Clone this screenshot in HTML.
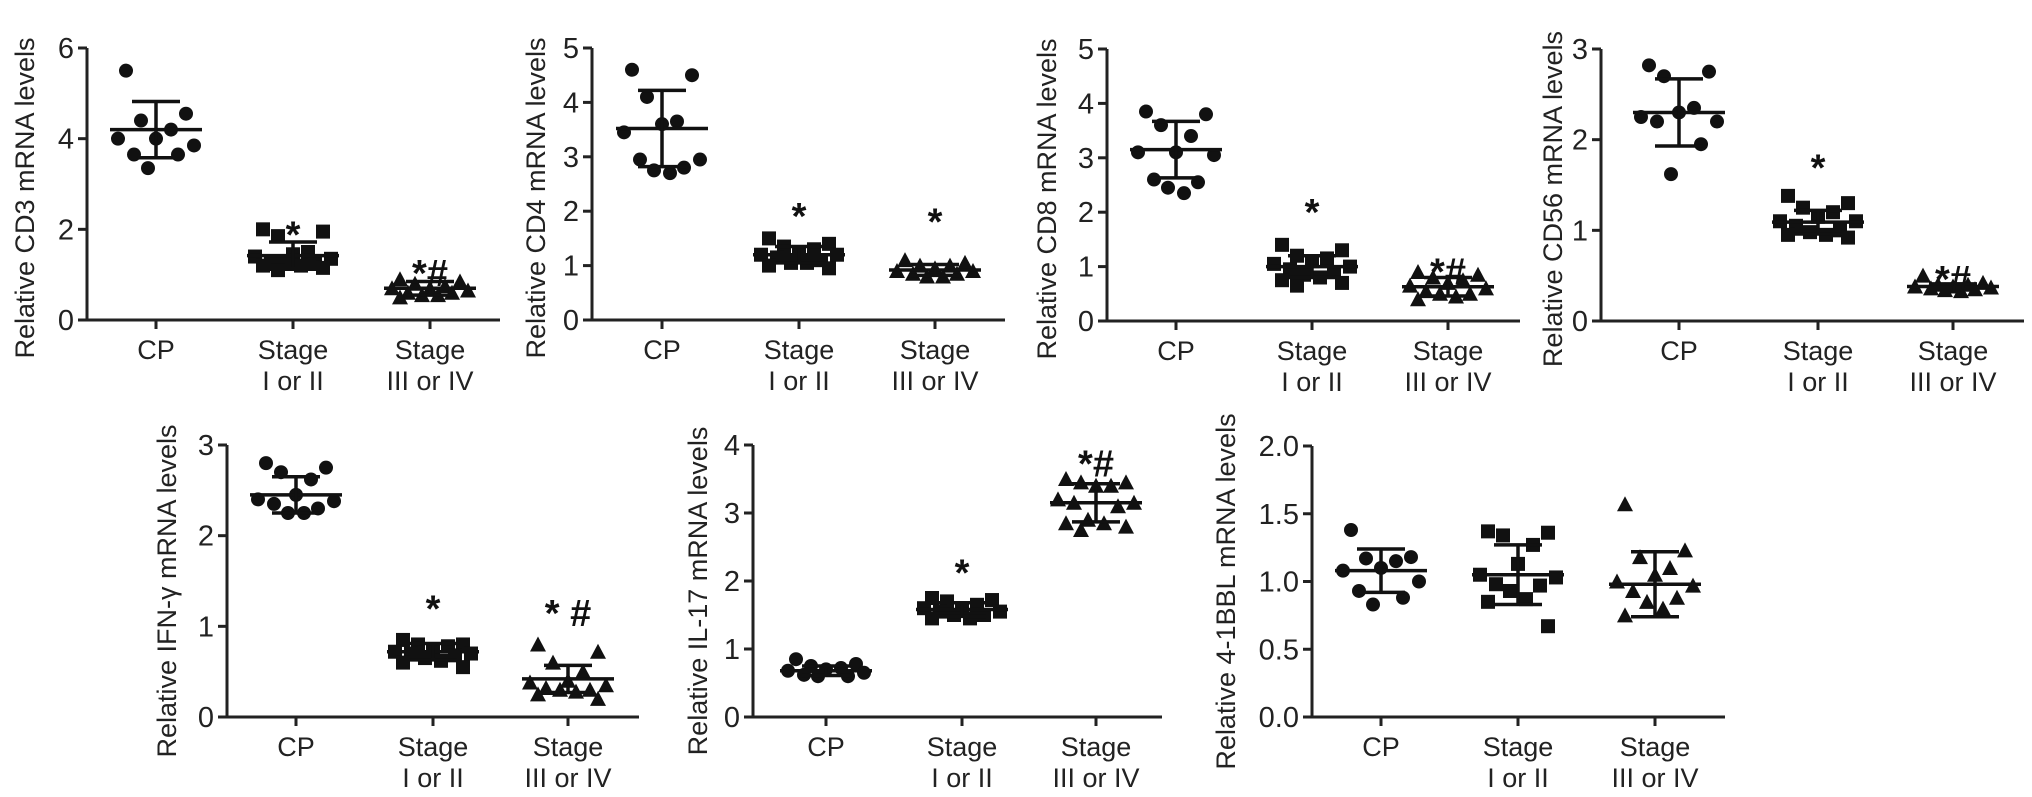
<!DOCTYPE html>
<html><head><meta charset="utf-8"><style>
html,body{margin:0;padding:0;background:#fff;}
svg{display:block;font-family:"Liberation Sans",Arial,sans-serif;}
</style></head><body>
<svg id="fig" width="2032" height="797" viewBox="0 0 2032 797" xmlns="http://www.w3.org/2000/svg"></svg>
<script>
const categories = ["CP", "Stage|I or II", "Stage|III or IV"];
// CD3
const cd3CP = [5.5,4.55,4.4,4.2,4.0,4.0,3.85,3.65,3.65,3.35];
const cd3S12 = [2.0,1.95,1.85,1.5,1.45,1.4,1.35,1.3,1.3,1.25,1.2,1.2,1.15,1.1];
const cd3S34 = [0.9,0.85,0.8,0.75,0.7,0.7,0.65,0.6,0.6,0.55,0.55,0.5];
const cd3Mean = [4.2,1.42,0.7];
const cd3SD = [0.62,0.3,0.15];
// CD4
const cd4CP = [4.6,4.5,4.1,3.65,3.6,3.45,2.95,2.95,2.8,2.75,2.7];
const cd4S12 = [1.5,1.4,1.35,1.3,1.25,1.2,1.2,1.15,1.1,1.05,1.05,1.0,0.95];
const cd4S34 = [1.1,1.05,1.0,1.0,0.95,0.9,0.9,0.85,0.85,0.8,0.8];
const cd4Mean = [3.52,1.2,0.92];
const cd4SD = [0.7,0.15,0.1];
// CD8
const cd8CP = [3.85,3.8,3.6,3.4,3.1,3.1,3.05,2.6,2.55,2.45,2.35];
const cd8S12 = [1.4,1.3,1.2,1.15,1.1,1.05,1.0,0.95,0.9,0.85,0.8,0.75,0.7,0.65];
const cd8S34 = [0.9,0.85,0.8,0.75,0.7,0.65,0.6,0.55,0.5,0.5,0.45,0.4];
const cd8Mean = [3.15,1.0,0.63];
const cd8SD = [0.52,0.2,0.17];
// CD56
const cd56CP = [2.82,2.75,2.7,2.35,2.3,2.25,2.2,2.2,1.95,1.62];
const cd56S12 = [1.38,1.3,1.25,1.2,1.15,1.1,1.1,1.05,1.0,0.98,0.95,0.95,0.92];
const cd56S34 = [0.5,0.42,0.4,0.4,0.38,0.38,0.37,0.36,0.35,0.34,0.33];
const cd56Mean = [2.3,1.09,0.38];
const cd56SD = [0.37,0.13,0.03];
// IFN-gamma
const ifnCP = [2.8,2.75,2.7,2.62,2.45,2.4,2.38,2.35,2.3,2.25,2.25];
const ifnS12 = [0.85,0.8,0.8,0.78,0.75,0.72,0.7,0.7,0.68,0.65,0.62,0.6,0.55];
const ifnS34 = [0.8,0.72,0.6,0.5,0.4,0.38,0.35,0.32,0.3,0.3,0.28,0.25,0.2];
const ifnMean = [2.45,0.72,0.42];
const ifnSD = [0.2,0.09,0.15];
// IL-17
const il17CP = [0.85,0.78,0.75,0.72,0.7,0.68,0.65,0.62,0.6,0.6];
const il17S12 = [1.75,1.72,1.7,1.65,1.6,1.6,1.55,1.55,1.5,1.5,1.45,1.45];
const il17S34 = [3.5,3.45,3.45,3.4,3.4,3.2,3.15,3.15,3.1,2.9,2.85,2.85,2.8,2.75];
const il17Mean = [0.68,1.58,3.15];
const il17SD = [0.07,0.1,0.28];
// 4-1BBL
const bblCP = [1.38,1.18,1.17,1.15,1.1,1.08,1.0,0.93,0.88,0.83];
const bblS12 = [1.37,1.36,1.34,1.27,1.13,1.05,1.03,0.98,0.97,0.93,0.87,0.85,0.67];
const bblS34 = [1.57,1.23,1.18,1.1,1.05,1.0,0.97,0.93,0.88,0.85,0.8,0.75];
const bblMean = [1.08,1.05,0.98];
const bblSD = [0.16,0.22,0.24];
// tick labels
const ticksCD3 = [0,2,4,6];
const ticksCD4 = [0,1,2,3,4,5];
const ticksCD56 = [0,1,2,3];
const ticksIL17 = [0,1,2,3,4];
const ticksBBL = ["0.0","0.5","1.0","1.5","2.0"];
// significance marks: [label, value]
const sigCD3 = [null,["*",2.0],["*#",1.15]];
const sigCD4 = [null,["*",2.0],["*",1.9]];
const sigCD8 = [null,["*",2.1],["*#",1.0]];
const sigCD56 = [null,["*",1.75],["*#",0.52]];
const sigIFN = [null,["*",1.25],["* #",1.2]];
const sigIL17 = [null,["*",2.2],["*#",3.8]];

const NS="http://www.w3.org/2000/svg";
const svg=document.getElementById('fig');
function mk(tag,attrs,parent){const e=document.createElementNS(NS,tag);for(const k in attrs)e.setAttribute(k,attrs[k]);(parent||svg).appendChild(e);return e;}

const panels=[
 {id:'cd3',title:'Relative CD3 mRNA levels',ax:87,ytop:48,y0:320,xend:500,gx:[156,293,430],max:6,ticks:ticksCD3,lx:24,pts:[cd3CP,cd3S12,cd3S34],mean:cd3Mean,sd:cd3SD,sig:sigCD3,row:0},
 {id:'cd4',title:'Relative CD4 mRNA levels',ax:592,ytop:48,y0:320,xend:1005,gx:[662,799,935],max:5,ticks:ticksCD4,lx:535,pts:[cd4CP,cd4S12,cd4S34],mean:cd4Mean,sd:cd4SD,sig:sigCD4,row:0},
 {id:'cd8',title:'Relative CD8 mRNA levels',ax:1107,ytop:49,y0:321,xend:1520,gx:[1176,1312,1448],max:5,ticks:ticksCD4,lx:1046,pts:[cd8CP,cd8S12,cd8S34],mean:cd8Mean,sd:cd8SD,sig:sigCD8,row:0},
 {id:'cd56',title:'Relative CD56 mRNA levels',ax:1601,ytop:49,y0:321,xend:2024,gx:[1679,1818,1953],max:3,ticks:ticksCD56,lx:1552,pts:[cd56CP,cd56S12,cd56S34],mean:cd56Mean,sd:cd56SD,sig:sigCD56,row:0},
 {id:'ifn',title:'Relative IFN-\u03b3 mRNA levels',ax:227,ytop:445,y0:717,xend:639,gx:[296,433,568],max:3,ticks:ticksCD56,lx:166,pts:[ifnCP,ifnS12,ifnS34],mean:ifnMean,sd:ifnSD,sig:sigIFN,row:1},
 {id:'il17',title:'Relative IL-17 mRNA levels',ax:753,ytop:445,y0:717,xend:1162,gx:[826,962,1096],max:4,ticks:ticksIL17,lx:697,pts:[il17CP,il17S12,il17S34],mean:il17Mean,sd:il17SD,sig:sigIL17,row:1},
 {id:'bbl',title:'Relative 4-1BBL mRNA levels',ax:1312,ytop:446,y0:717,xend:1725,gx:[1381,1518,1655],max:2,ticks:ticksBBL,lx:1225,pts:[bblCP,bblS12,bblS34],mean:bblMean,sd:bblSD,sig:[null,null,null],row:1}
];
const jit=[-30,30,-15,15,0,-38,38,-22,22,-8,8,-30,30,-15];

panels.forEach(p=>{
 const g=mk('g',{});
 
 
 const y=v=>p.y0-(v/p.max)*(p.y0-p.ytop);
 const ax=mk('path',{d:`M${p.ax},${p.ytop} V${p.y0} H${p.xend}`,fill:'none',stroke:'#222','stroke-width':3},g);
 
 
 p.ticks.forEach(t=>{
  const v=parseFloat(t);const yy=y(v);
  mk('line',{x1:p.ax-9,x2:p.ax,y1:yy,y2:yy,stroke:'#222','stroke-width':3},g);
  const tx=mk('text',{x:p.ax-13,y:yy+10,'text-anchor':'end','font-size':29,fill:'#222'},g);
  tx.textContent=t;
  
  
 });
 const ty=(p.ytop+p.y0)/2+(p.row?10:14);
 const tl=mk('text',{x:0,y:0,transform:`translate(${p.lx+10},${ty}) rotate(-90)`,'text-anchor':'middle','font-size':27,fill:'#222'},g);
 tl.textContent=p.title;
 
 
 categories.forEach((c,i)=>{
  const gx=p.gx[i];
  mk('line',{x1:gx,x2:gx,y1:p.y0,y2:p.y0+9,stroke:'#222','stroke-width':3},g);
  const parts=c.split('|');
  parts.forEach((s,j)=>{
   const t=mk('text',{x:gx,y:p.y0+39+j*31,'text-anchor':'middle','font-size':27,fill:'#222'},g);
   t.textContent=s;
   
   
  });
  p.pts[i].forEach((v,k)=>{
   const px=gx+jit[k%jit.length], py=y(v);
   let m;
   if(i===0) m=mk('circle',{cx:px,cy:py,r:7,fill:'#111'},g);
   else if(i===1) m=mk('rect',{x:px-7,y:py-7,width:14,height:14,fill:'#111'},g);
   else m=mk('polygon',{points:`${px},${py-8} ${px-8},${py+7} ${px+8},${py+7}`,fill:'#111'},g);
   
   
  });
  const mn=p.mean[i], sd=p.sd[i];
  const ml=mk('line',{x1:gx-46,x2:gx+46,y1:y(mn),y2:y(mn),stroke:'#111','stroke-width':3.5},g);
  
  
  const eb=mk('path',{d:`M${gx},${y(mn+sd)} V${y(mn-sd)} M${gx-24},${y(mn+sd)} H${gx+24} M${gx-24},${y(mn-sd)} H${gx+24}`,stroke:'#111','stroke-width':3.5,fill:'none'},g);
  
  
  const s=p.sig[i];
  if(s){
   const st=mk('text',{x:gx,y:y(s[1])+18,'text-anchor':'middle','font-size':38,'font-weight':'bold',fill:'#111'},g);
   st.textContent=s[0];
   
   
  }
 });
});
</script>
</body></html>
